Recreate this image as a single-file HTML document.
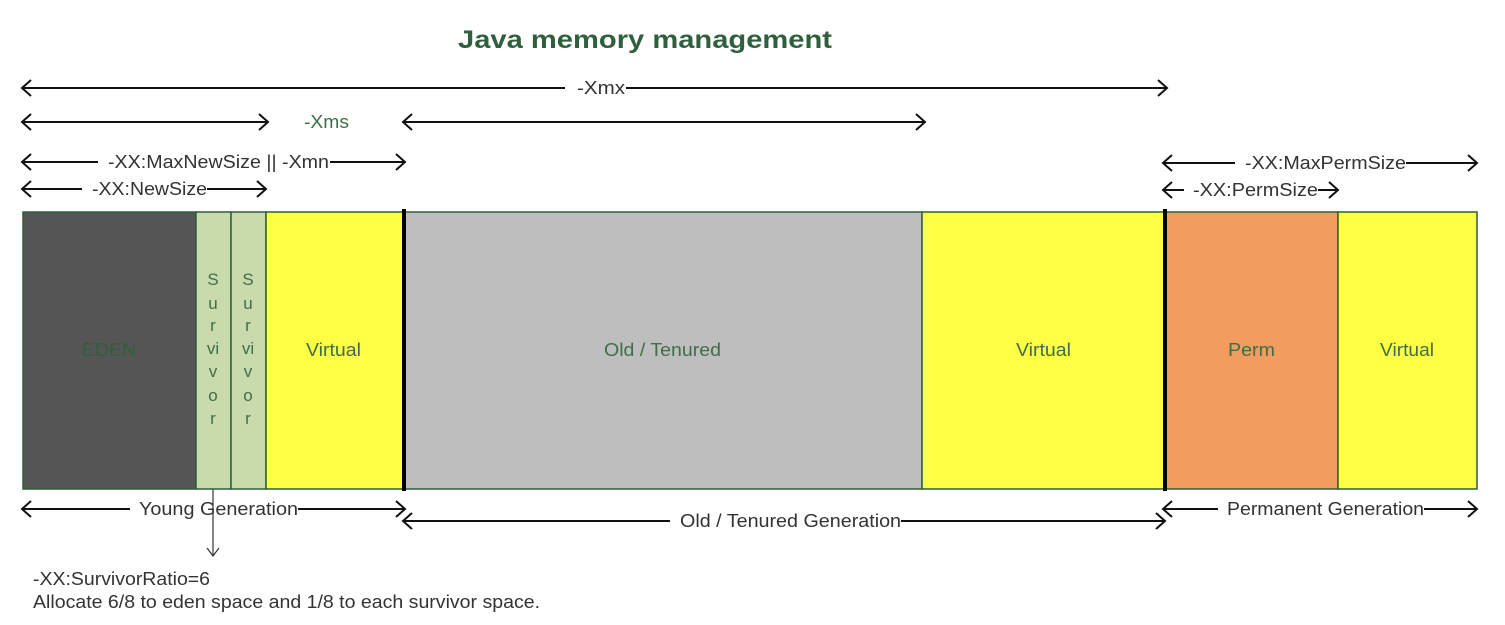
<!DOCTYPE html>
<html><head><meta charset="utf-8"><style>
html,body{margin:0;padding:0;background:#fff}
svg{display:block}
text{font-family:"Liberation Sans",sans-serif}
</style></head><body>
<svg width="1505" height="625" viewBox="0 0 1505 625" xmlns="http://www.w3.org/2000/svg">
<text x="458" y="48" font-size="25" font-weight="bold" fill="#2f5f3c" textLength="374" lengthAdjust="spacingAndGlyphs">Java memory management</text>

<g stroke="#111" stroke-width="2" fill="none">
<line x1="22" y1="88" x2="565" y2="88"/><line x1="626" y1="88" x2="1167" y2="88"/>
<polyline points="31,80 22,88 31,96"/><polyline points="1158,80 1167,88 1158,96"/>
<line x1="22" y1="122" x2="268" y2="122"/>
<polyline points="31,114 22,122 31,130"/><polyline points="259,114 268,122 259,130"/>
<line x1="403" y1="122" x2="925" y2="122"/>
<polyline points="412,114 403,122 412,130"/><polyline points="916,114 925,122 916,130"/>
<line x1="22" y1="162" x2="98" y2="162"/><line x1="330" y1="162" x2="405" y2="162"/>
<polyline points="31,154 22,162 31,170"/><polyline points="396,154 405,162 396,170"/>
<line x1="22" y1="189" x2="82" y2="189"/><line x1="207" y1="189" x2="266" y2="189"/>
<polyline points="31,181 22,189 31,197"/><polyline points="257,181 266,189 257,197"/>
<line x1="1163" y1="163" x2="1235" y2="163"/><line x1="1406" y1="163" x2="1477" y2="163"/>
<polyline points="1172,155 1163,163 1172,171"/><polyline points="1468,155 1477,163 1468,171"/>
<line x1="1163" y1="190" x2="1184" y2="190"/><line x1="1318" y1="190" x2="1338" y2="190"/>
<polyline points="1172,182 1163,190 1172,198"/><polyline points="1329,182 1338,190 1329,198"/>
<line x1="22" y1="509" x2="130" y2="509"/><line x1="298" y1="509" x2="405" y2="509"/>
<polyline points="31,501 22,509 31,517"/><polyline points="396,501 405,509 396,517"/>
<line x1="403" y1="521" x2="670" y2="521"/><line x1="901" y1="521" x2="1165" y2="521"/>
<polyline points="412,513 403,521 412,529"/><polyline points="1156,513 1165,521 1156,529"/>
<line x1="1163" y1="509" x2="1218" y2="509"/><line x1="1424" y1="509" x2="1477" y2="509"/>
<polyline points="1172,501 1163,509 1172,517"/><polyline points="1468,501 1477,509 1468,517"/>
</g>
<g stroke="#333" stroke-width="1.2" fill="none">
<line x1="213" y1="489" x2="213" y2="556"/>
<polyline points="207,548 213,556 219,548"/>
</g>

<g font-size="18" fill="#333">
<text x="577" y="94" textLength="48" lengthAdjust="spacingAndGlyphs">-Xmx</text>
<text x="304" y="128" textLength="45" lengthAdjust="spacingAndGlyphs" fill="#3e6e4a">-Xms</text>
<text x="108" y="168" textLength="221" lengthAdjust="spacingAndGlyphs">-XX:MaxNewSize || -Xmn</text>
<text x="92" y="195" textLength="115" lengthAdjust="spacingAndGlyphs">-XX:NewSize</text>
<text x="1245" y="169" textLength="161" lengthAdjust="spacingAndGlyphs">-XX:MaxPermSize</text>
<text x="1193" y="196" textLength="125" lengthAdjust="spacingAndGlyphs">-XX:PermSize</text>
<text x="139" y="515" textLength="159" lengthAdjust="spacingAndGlyphs">Young Generation</text>
<text x="680" y="527" textLength="221" lengthAdjust="spacingAndGlyphs">Old / Tenured Generation</text>
<text x="1227" y="515" textLength="197" lengthAdjust="spacingAndGlyphs">Permanent Generation</text>
<text x="33" y="585" textLength="177" lengthAdjust="spacingAndGlyphs">-XX:SurvivorRatio=6</text>
<text x="33" y="608" textLength="507" lengthAdjust="spacingAndGlyphs">Allocate 6/8 to eden space and 1/8 to each survivor space.</text>
</g>

<g stroke="#2f5f3c" stroke-width="1.5">
<rect x="23" y="212" width="173" height="277" fill="#555555"/>
<rect x="196" y="212" width="35" height="277" fill="#c9dbad"/>
<rect x="231" y="212" width="35" height="277" fill="#c9dbad"/>
<rect x="266" y="212" width="138" height="277" fill="#ffff44"/>
<rect x="404" y="212" width="518" height="277" fill="#bebebe"/>
<rect x="922" y="212" width="243" height="277" fill="#ffff44"/>
<rect x="1165" y="212" width="173" height="277" fill="#f39c5f"/>
<rect x="1338" y="212" width="139" height="277" fill="#ffff44"/>
</g>
<line x1="404" y1="209" x2="404" y2="491" stroke="#000" stroke-width="4"/>
<line x1="1165" y1="209" x2="1165" y2="491" stroke="#000" stroke-width="4"/>

<g font-size="18" fill="#3e6e4a">
<text x="82" y="356" textLength="54" lengthAdjust="spacingAndGlyphs" fill="#2f5f3c">EDEN</text>
<text x="306" y="356" textLength="55" lengthAdjust="spacingAndGlyphs">Virtual</text>
<text x="604" y="356" textLength="117" lengthAdjust="spacingAndGlyphs">Old / Tenured</text>
<text x="1016" y="356" textLength="55" lengthAdjust="spacingAndGlyphs">Virtual</text>
<text x="1228" y="356" textLength="47" lengthAdjust="spacingAndGlyphs">Perm</text>
<text x="1380" y="356" textLength="54" lengthAdjust="spacingAndGlyphs">Virtual</text>
</g>
<g font-size="17" fill="#3e6e4a" text-anchor="middle">
<text x="213" y="285">S</text><text x="213" y="309">u</text><text x="213" y="331">r</text><text x="213" y="354">vi</text><text x="213" y="377">v</text><text x="213" y="401">o</text><text x="213" y="424">r</text>
<text x="248" y="285">S</text><text x="248" y="309">u</text><text x="248" y="331">r</text><text x="248" y="354">vi</text><text x="248" y="377">v</text><text x="248" y="401">o</text><text x="248" y="424">r</text>
</g>
</svg>
</body></html>
